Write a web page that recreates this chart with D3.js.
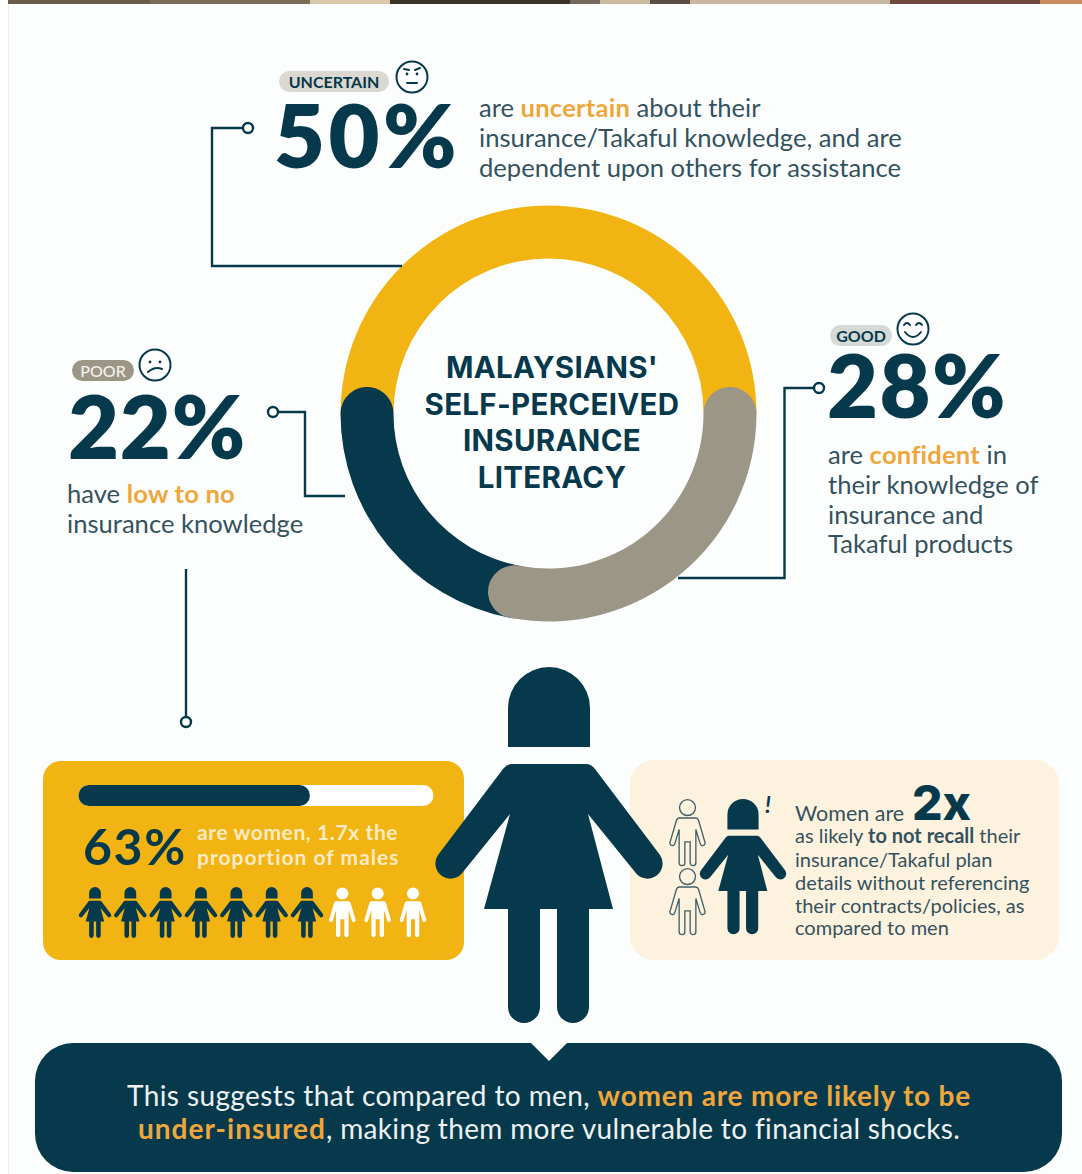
<!DOCTYPE html>
<html>
<head>
<meta charset="utf-8">
<script src="https://cdnjs.cloudflare.com/ajax/libs/d3/7.8.5/d3.min.js"></script>
<style>
html,body{margin:0;padding:0;background:#fff;overflow:hidden}
svg{display:block}
text{font-family:Lato,"Noto Sans",sans-serif;font-variant-ligatures:none}
</style>
</head>
<body>
<svg id="chart" width="1082" height="1174"></svg>
<script>
// Survey figures
const literacyLabels = ["UNCERTAIN", "GOOD", "POOR"];
const literacyValues = [50, 28, 22];
const literacyColors = ["#F2B412", "#9C9686", "#06394C"];
const womenShare = 63;
const pictogramGroups = ["women", "men"];
const pictogramCounts = [7, 3];

const NAVY = "#06394C", ORANGE = "#EFA63B", BODY = "#34525E", CREAM = "#FDF2DE", GOLD = "#F2B412";
const svg = d3.select("#chart");

// Page ground and the photo strip running along the top edge
svg.append("rect").attr("x", 8).attr("y", 4).attr("width", 1074).attr("height", 1170).attr("fill", "#FCFEFE");
svg.append("line").attr("x1", 8.5).attr("x2", 8.5).attr("y1", 4).attr("y2", 1174).attr("stroke", "#E6EEEE");
const stripStops = [[8,"#6B5E48"],[150,"#7B6E58"],[310,"#D9C7AC"],[390,"#3D3428"],[570,"#77685A"],[600,"#CBB9A0"],[650,"#5B4D40"],[690,"#C9B79F"],[890,"#6E4A3C"],[1040,"#C98B5E"]];
svg.selectAll(".strip").data(stripStops).join("rect").attr("class", "strip")
  .attr("x", d => d[0]).attr("y", 0).attr("height", 4)
  .attr("width", (d, i) => (i + 1 < stripStops.length ? stripStops[i + 1][0] : 1082) - d[0])
  .attr("fill", d => d[1]);

// Ring
const cx = 548.5, cy = 413.5, rOuter = 208, rInner = 155, band = rOuter - rInner;
const capAngle = Math.asin((band / 2) / ((rOuter + rInner) / 2));
const pie = d3.pie().sort(null).value(d => d.value).startAngle(-Math.PI / 2).endAngle(Math.PI * 1.5);
const slices = pie(literacyLabels.map((label, i) => ({label, value: literacyValues[i], color: literacyColors[i]})));
const plainArc = d3.arc().innerRadius(rInner).outerRadius(rOuter);
const roundArc = d3.arc().innerRadius(rInner).outerRadius(rOuter).cornerRadius(band / 2);
const ring = svg.append("g").attr("transform", `translate(${cx},${cy})`);
const drawOrder = [slices[0], slices[2], slices[1]];
ring.selectAll("path").data(drawOrder).join("path")
  .attr("fill", d => d.data.color)
  .attr("d", d => d.data.label === "UNCERTAIN"
    ? plainArc(d)
    : roundArc({startAngle: d.startAngle - capAngle, endAngle: d.endAngle + capAngle}));

// Ring title
const titleLines = ["MALAYSIANS'", "SELF-PERCEIVED", "INSURANCE", "LITERACY"];
const titleBase = [378, 415, 451, 488];
svg.selectAll(".title").data(titleLines).join("text").attr("class", "title")
  .attr("x", 552).attr("y", (d, i) => titleBase[i])
  .attr("text-anchor", "middle").attr("font-size", 29.5).attr("font-weight", 700)
  .attr("letter-spacing", 0.3).attr("fill", NAVY).style("font-family", "Inter,Lato,sans-serif").text(d => d);

// Leader lines with ring terminals
const leaders = [
  {pts: [[243,128],[212,128],[212,266],[402,266]], end: [248,128]},
  {pts: [[278,412],[305,412],[305,496],[345,496]], end: [273,412]},
  {pts: [[814,388],[784.5,388],[784.5,578],[678,578]], end: [819,388]},
  {pts: [[186,569],[186,716]], end: [186,722]}
];
const leaderLine = d3.line();
leaders.forEach(l => {
  svg.append("path").attr("d", leaderLine(l.pts)).attr("fill", "none").attr("stroke", NAVY).attr("stroke-width", 2.4);
  svg.append("circle").attr("cx", l.end[0]).attr("cy", l.end[1]).attr("r", 5).attr("fill", "#fff").attr("stroke", NAVY).attr("stroke-width", 2.4);
});

// Category callouts
const callouts = [
  {tag: "UNCERTAIN", pill: [279,71,110,21], pillFill: "#DAD8D1", tagFill: NAVY, tagWeight: 700, face: [412,77,"flat"], pct: "50%", px: 274, py: 168, track: 3.5},
  {tag: "POOR", pill: [72,360,62,21], pillFill: "#9C9686", tagFill: "#F4F2EC", tagWeight: 500, face: [155,365,"sad"], pct: "22%", px: 68, py: 459, track: 0.8},
  {tag: "GOOD", pill: [830,325,62,21], pillFill: "#D5DAD6", tagFill: NAVY, tagWeight: 700, face: [913,329,"happy"], pct: "28%", px: 827, py: 418, track: 1.5}
];
callouts.forEach(c => {
  svg.append("rect").attr("x", c.pill[0]).attr("y", c.pill[1]).attr("width", c.pill[2]).attr("height", c.pill[3])
    .attr("rx", c.pill[3] / 2).attr("fill", c.pillFill);
  svg.append("text").attr("x", c.pill[0] + c.pill[2] / 2).attr("y", c.pill[1] + c.pill[3] / 2 + 6)
    .attr("text-anchor", "middle").attr("font-size", 16).attr("font-weight", c.tagWeight).attr("fill", c.tagFill).text(c.tag);
  svg.append("text").attr("x", c.px).attr("y", c.py).attr("font-size", 88).attr("font-weight", 800)
    .attr("letter-spacing", c.track).attr("fill", NAVY).text(c.pct);
  drawFace(c.face[0], c.face[1], c.face[2]);
});

function drawFace(x, y, mood) {
  const g = svg.append("g").attr("transform", `translate(${x},${y})`)
    .attr("fill", "none").attr("stroke", NAVY).attr("stroke-width", 2).attr("stroke-linecap", "round");
  g.append("circle").attr("r", 15.5).attr("fill", "#fff");
  const mouth = {flat: "M-5,6H5", sad: "M-7,7Q0,1 7,4", happy: "M-8,3Q0,13 8,3"}[mood];
  g.append("path").attr("d", mouth);
  if (mood === "happy") g.append("path").attr("d", "M-9,-4Q-6,-8 -3,-4M3,-4Q6,-8 9,-4");
  else {
    g.selectAll(".eye").data([-5, 5]).join("circle").attr("class", "eye").attr("cx", d => d).attr("cy", -3).attr("r", 1.4).attr("fill", NAVY).attr("stroke", "none");
    if (mood === "flat") g.append("path").attr("d", "M-8,-8L-3,-7M3,-7L8,-9");
  }
}

// Running copy: each line is a list of [text, style, tracking] runs
function copy(x, y, size, fill, runs) {
  const t = svg.append("text").attr("x", x).attr("y", y).attr("font-size", size).attr("fill", fill);
  runs.forEach(r => {
    const s = t.append("tspan").text(r[0]);
    if (r[1] === "hi") s.attr("fill", ORANGE).attr("font-weight", 700);
    if (r[1] === "b") s.attr("font-weight", 700);
    if (r[2]) s.attr("letter-spacing", r[2]);
  });
  return t;
}
const plain = s => [[s]];
copy(479, 117, 25.6, BODY, [["are "], ["uncertain", "hi", 0.2], [" about their"]]);
copy(479, 147, 25.6, BODY, plain("insurance/Takaful knowledge, and are"));
copy(479, 177, 25.6, BODY, plain("dependent upon others for assistance"));
copy(67, 503, 25.6, BODY, [["have "], ["low to no", "hi", 0.2]]);
copy(67, 533, 25.6, BODY, plain("insurance knowledge"));
copy(828, 464, 25.6, BODY, [["are "], ["confident", "hi", 0.2], [" in"]]);
copy(828, 494, 25.6, BODY, plain("their knowledge of"));
copy(828, 524, 25.6, BODY, plain("insurance and"));
copy(828, 553, 25.6, BODY, plain("Takaful products"));

// Side panels
svg.append("rect").attr("x", 43).attr("y", 761).attr("width", 421).attr("height", 199).attr("rx", 18).attr("fill", GOLD);
svg.append("rect").attr("x", 630).attr("y", 760).attr("width", 429).attr("height", 200).attr("rx", 24).attr("fill", CREAM);

// Share bar
const shareX = d3.scaleLinear().domain([0, 100]).range([89, 423]);
const barY = 795.5;
svg.append("line").attr("x1", shareX(0)).attr("x2", shareX(100)).attr("y1", barY).attr("y2", barY)
  .attr("stroke", "#fff").attr("stroke-width", 21).attr("stroke-linecap", "round");
svg.append("line").attr("x1", shareX(0)).attr("x2", shareX(womenShare)).attr("y1", barY).attr("y2", barY)
  .attr("stroke", NAVY).attr("stroke-width", 21).attr("stroke-linecap", "round");
svg.append("text").attr("x", 83).attr("y", 865).attr("font-size", 50).attr("font-weight", 700)
  .attr("letter-spacing", 1.6).attr("fill", NAVY).text(womenShare + "%");
copy(197, 840, 21, "#FBEBC4", [["are women, 1.7x the", "b", 0.6]]);
copy(197, 865, 21, "#FBEBC4", [["proportion of males", "b", 1]]);

// Figure outlines, unit box 226 wide by 356 tall, origin at the top centre
const womanPath = "M-41,80V41A41,41 0 0 1 41,41V80Z" +
  "M-37,97H37Q42,97 46,102L111,188A15,15 0 0 1 86,205L39,147L64,242H40V340A16,16 0 0 1 8,340V242H-9V340A16,16 0 0 1 -41,340V242H-65L-39,147L-86,205A15,15 0 0 1 -111,188L-46,102Q-42,97 -37,97Z";
const manPath = "M-44,100H44Q54,100 58,112L92,228A13,13 0 0 1 67,236L44,160V336A15,15 0 0 1 14,336V226H-14V336A15,15 0 0 1 -44,336V160L-67,236A13,13 0 0 1 -92,228L-58,112Q-54,100 -44,100Z";

// Central figure
svg.append("path").attr("d", womanPath).attr("transform", "translate(549,667)").attr("fill", NAVY);

// Ten-person pictogram
const people = pictogramGroups.flatMap((g, i) => d3.range(pictogramCounts[i]).map(() => g));
const peopleX = d3.scalePoint().domain(d3.range(people.length)).range([95, 413]);
const pictoScale = 0.143;
const pictoG = svg.selectAll(".person").data(people).join("g").attr("class", "person")
  .attr("transform", (d, i) => `translate(${peopleX(i)},887) scale(${pictoScale})`);
pictoG.filter(d => d === "women").append("path").attr("d", womanPath).attr("fill", NAVY);
pictoG.filter(d => d === "men").append("path").attr("d", manPath).attr("fill", "#fff");
pictoG.filter(d => d === "men").append("circle").attr("cy", 45).attr("r", 42).attr("fill", "#fff");

// Comparison icon in the cream panel
svg.append("path").attr("d", womanPath).attr("transform", "translate(743,799) scale(0.38)").attr("fill", NAVY);
svg.append("text").attr("x", 765).attr("y", 813).attr("font-size", 22).attr("font-style", "italic").attr("font-weight", 700).attr("fill", NAVY).text("!");
[799, 868].forEach(top => {
  const m = svg.append("g").attr("transform", `translate(687.5,${top}) scale(0.19)`)
    .attr("fill", "none").attr("stroke", "#3F5F68").attr("stroke-width", 7);
  m.append("path").attr("d", manPath);
  m.append("circle").attr("cy", 45).attr("r", 42);
});

// Cream panel copy
copy(795, 821, 21.5, BODY, plain("Women are"));
svg.append("text").attr("x", 912).attr("y", 820).attr("font-size", 48).attr("font-weight", 800).attr("fill", NAVY)
  .style("font-family", "Inter,Lato,sans-serif").text("2x");
copy(795, 843, 20, BODY, [["as likely "], ["to not recall", "b"], [" their"]]);
copy(795, 867, 20, BODY, plain("insurance/Takaful plan"));
copy(795, 890, 20, BODY, plain("details without referencing"));
copy(795, 913, 20, BODY, plain("their contracts/policies, as"));
copy(795, 935, 20, BODY, plain("compared to men"));

// Conclusion band with its pointer notch
svg.append("rect").attr("x", 35).attr("y", 1043).attr("width", 1027).attr("height", 129).attr("rx", 38).attr("fill", NAVY);
svg.append("path").attr("d", d3.line()([[530,1042],[568,1042],[549,1061]])).attr("fill", "#FCFEFE");
copy(127, 1106, 28, "#EDF1F1", [["This suggests that compared to men, ", "", 0.4], ["women are more likely to be", "hi", 0.8]]);
copy(138, 1139, 28, "#EDF1F1", [["under-insured", "hi", 1], [", making them more vulnerable to financial shocks.", "", 0.35]]);
</script>
</body>
</html>
